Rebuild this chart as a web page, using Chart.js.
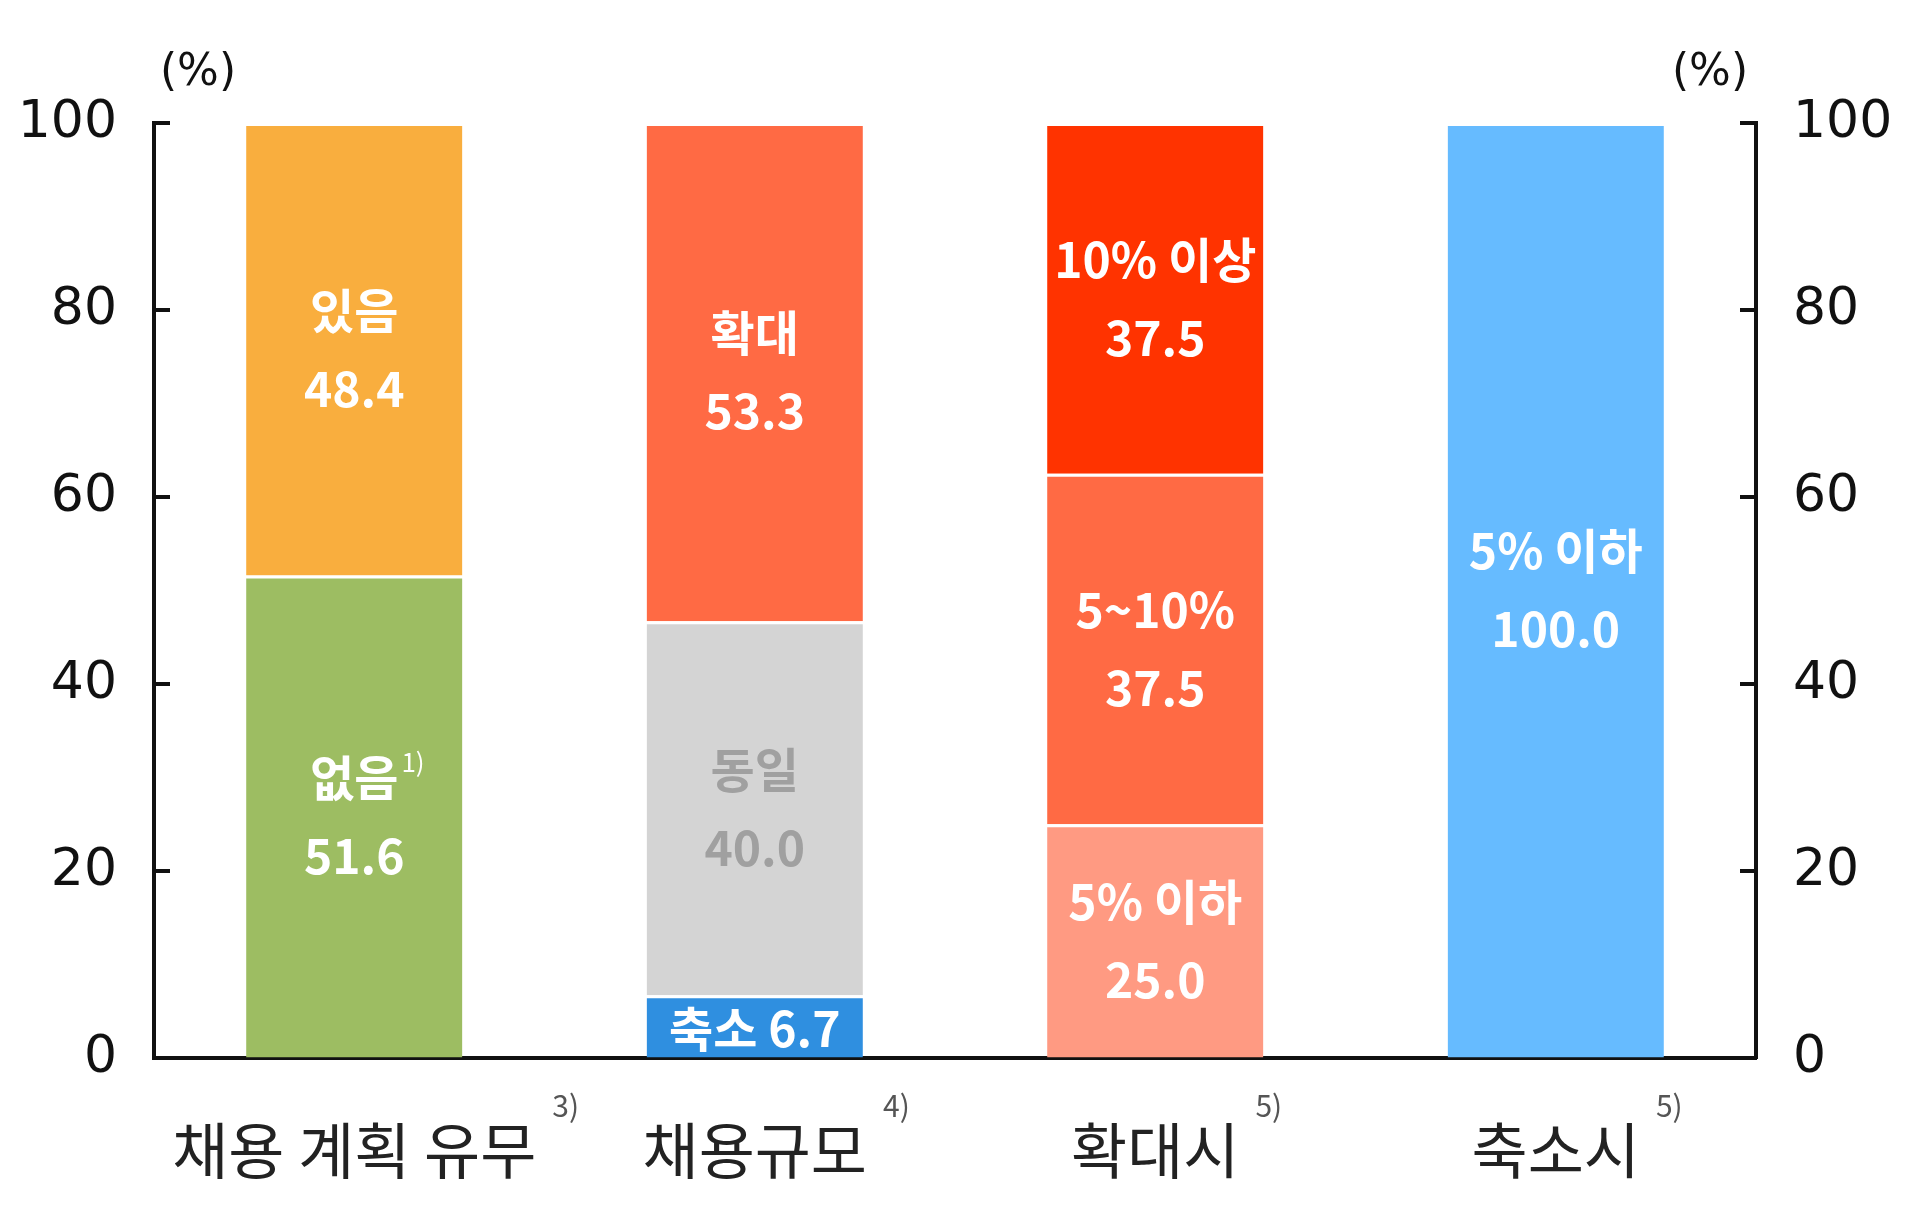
<!DOCTYPE html>
<html>
<head>
<meta charset="utf-8">
<script src="https://cdn.jsdelivr.net/npm/chart.js@4.4.1/dist/chart.umd.min.js"></script>
<style>
  html, body { margin: 0; padding: 0; background: #fff; }
  #wrap { width: 1920px; height: 1210px; }
</style>
</head>
<body>
<div id="wrap"><canvas id="chart" width="1920" height="1210"></canvas></div>
<script>
// === 데이터 ===
const categories = ['채용 계획 유무', '채용규모', '확대시', '축소시'];
const categoryNotes = ['3)', '4)', '5)', '5)'];
const yTicks = [0, 20, 40, 60, 80, 100];

// 아래에서부터 쌓는 세 층
const bottomValues = [51.6, 6.7, 25.0, 100.0];
const middleValues = [48.4, 40.0, 37.5, null];
const topValues = [null, 53.3, 37.5, null];

const bottomNames = ['없음', '축소', '5% 이하', '5% 이하'];
const middleNames = ['있음', '동일', '5~10%', ''];
const topNames = ['', '확대', '10% 이상', ''];
const bottomNotes = ['1)', '', '', ''];

const bottomColors = ['#9dbd62', '#2f8fe0', '#ff9a82', '#66bbff'];
const middleColors = ['#f9ae3e', '#d4d4d4', '#ff6a44', '#ffffff'];
const topColors = ['#ffffff', '#ff6a44', '#ff3300', '#ffffff'];

const FONT_KR = '"Noto Sans CJK KR", "Noto Sans", sans-serif';
const FONT_NUM = '"DejaVu Sans", sans-serif';

const layers = [
  { values: bottomValues, names: bottomNames, notes: bottomNotes, colors: bottomColors },
  { values: middleValues, names: middleNames, notes: ['', '', '', ''], colors: middleColors },
  { values: topValues, names: topNames, notes: ['', '', '', ''], colors: topColors }
];

// 막대 안의 글자
const segmentLabels = {
  id: 'segmentLabels',
  afterDatasetsDraw(chart) {
    const { ctx } = chart;
    ctx.save();
    ctx.textAlign = 'center';
    ctx.textBaseline = 'middle';
    layers.forEach((layer, di) => {
      const meta = chart.getDatasetMeta(di);
      meta.data.forEach((bar, i) => {
        const v = layer.values[i];
        if (v == null) return;
        const name = layer.names[i];
        const cx = bar.x;
        const cy = (bar.y + bar.base) / 2;
        ctx.fillStyle = name === '동일' ? '#a0a0a0' : '#ffffff';
        ctx.font = 'bold 48px ' + FONT_KR;
        // 얇은 조각은 한 줄로
        if (Math.abs(bar.base - bar.y) < 100) {
          ctx.fillText(name + ' ' + v.toFixed(1), cx, cy + 2);
          return;
        }
        ctx.fillText(name, cx, cy - 39);
        if (layer.notes[i]) {
          const w = ctx.measureText(name).width;
          ctx.save();
          ctx.font = '26px ' + FONT_KR;
          ctx.textAlign = 'left';
          ctx.fillText(layer.notes[i], cx + w / 2 + 3, cy - 54);
          ctx.restore();
        }
        ctx.fillText(v.toFixed(1), cx, cy + 39);
      });
    });
    ctx.restore();
  }
};

// 안쪽 눈금, (%) 표시, 각주 번호
const axisExtras = {
  id: 'axisExtras',
  afterDraw(chart) {
    const { ctx, chartArea } = chart;
    const yL = chart.scales.y;
    const yR = chart.scales.y2;
    ctx.save();
    ctx.strokeStyle = '#111';
    ctx.lineWidth = 4;
    yTicks.forEach(t => {
      const py = yL.getPixelForValue(t);
      ctx.beginPath();
      ctx.moveTo(chartArea.left, py);
      ctx.lineTo(chartArea.left + 16, py);
      ctx.stroke();
      const pr = yR.getPixelForValue(t);
      ctx.beginPath();
      ctx.moveTo(chartArea.right, pr);
      ctx.lineTo(chartArea.right - 16, pr);
      ctx.stroke();
    });

    ctx.fillStyle = '#111';
    ctx.font = '44px ' + FONT_NUM;
    ctx.textAlign = 'center';
    ctx.textBaseline = 'middle';
    ctx.fillText('(%)', chartArea.left + 44, 74);
    ctx.fillText('(%)', chartArea.right - 46, 74);

    const x = chart.scales.x;
    categories.forEach((c, i) => {
      const px = x.getPixelForValue(i);
      ctx.font = '61px ' + FONT_KR;
      const w = ctx.measureText(c).width;
      ctx.font = '30px ' + FONT_KR;
      ctx.textAlign = 'left';
      ctx.fillStyle = '#555';
      ctx.fillText(categoryNotes[i], px + w / 2 + 16, chartArea.bottom + 48);
    });
    ctx.restore();
  }
};

const yAxisBase = {
  min: 0,
  max: 100,
  grid: { display: true, drawOnChartArea: false, drawTicks: false },
  border: { display: true, color: '#111', width: 4 },
  ticks: {
    stepSize: 20,
    padding: 37,
    color: '#111',
    font: { family: FONT_NUM, size: 52 }
  }
};

new Chart(document.getElementById('chart'), {
  type: 'bar',
  data: {
    labels: categories,
    datasets: layers.map(layer => ({
      data: layer.values,
      backgroundColor: layer.colors,
      borderColor: 'rgba(255,255,255,0.55)',
      borderWidth: { top: 3, bottom: 0, left: 0, right: 0 },
      borderSkipped: false,
      categoryPercentage: 1,
      barPercentage: 0.54,
      yAxisID: 'y'
    }))
  },
  options: {
    responsive: false,
    devicePixelRatio: 1,
    animation: false,
    layout: { padding: { top: 123, left: 0, right: 0, bottom: 0 } },
    plugins: {
      legend: { display: false },
      tooltip: { enabled: false }
    },
    scales: {
      x: {
        stacked: true,
        grid: { display: true, drawOnChartArea: false, drawTicks: false },
        border: { display: true, color: '#111', width: 4 },
        ticks: {
          padding: 56,
          color: '#222',
          font: { family: FONT_KR, size: 61 }
        },
        afterFit(scale) { scale.height = 152; }
      },
      y: {
        ...yAxisBase,
        stacked: true,
        position: 'left',
        afterFit(scale) { scale.width = 154; }
      },
      y2: {
        ...yAxisBase,
        position: 'right',
        afterFit(scale) { scale.width = 164; }
      }
    }
  },
  plugins: [segmentLabels, axisExtras]
});
</script>
</body>
</html>
